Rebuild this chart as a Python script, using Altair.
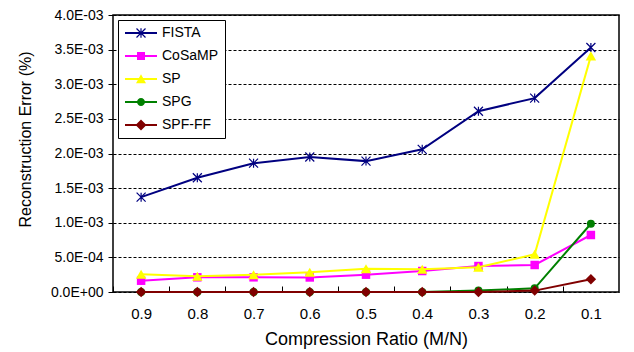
import altair as alt
import pandas as pd

# Compression ratios (x categories), left to right
ratios = ["0.9", "0.8", "0.7", "0.6", "0.5", "0.4", "0.3", "0.2", "0.1"]

# Reconstruction error for each algorithm
fista = [1.37e-3, 1.65e-3, 1.86e-3, 1.95e-3, 1.89e-3, 2.06e-3, 2.61e-3, 2.80e-3, 3.53e-3]
cosamp = [1.63e-4, 2.12e-4, 2.12e-4, 2.10e-4, 2.50e-4, 3.03e-4, 3.75e-4, 3.90e-4, 8.23e-4]
sp = [2.56e-4, 2.27e-4, 2.50e-4, 2.84e-4, 3.36e-4, 3.28e-4, 3.57e-4, 5.44e-4, 3.41e-3]
spg = [0.0, 0.0, 0.0, 0.0, 0.0, 0.0, 2.0e-5, 5.3e-5, 9.86e-4]
spf_ff = [0.0, 0.0, 0.0, 0.0, 0.0, 0.0, 0.0, 2.0e-5, 1.83e-4]

series_names = ["FISTA", "CoSaMP", "SP", "SPG", "SPF-FF"]
series_values = [fista, cosamp, sp, spg, spf_ff]
series_colors = ["#000080", "#FF00FF", "#FFFF00", "#008000", "#800000"]

# y-axis ticks and their scientific-notation labels
y_ticks = [0.0, 0.0005, 0.001, 0.0015, 0.002, 0.0025, 0.003, 0.0035, 0.004]
y_tick_labels = ["0.0E+00", "5.0E-04", "1.0E-03", "1.5E-03", "2.0E-03",
                 "2.5E-03", "3.0E-03", "3.5E-03", "4.0E-03"]

FONT = "Liberation Sans"
W, H = 506, 277
step = W / len(ratios)


def bar(x0, y0, x1, y1, hw):
    """Closed thin rectangle from (x0,y0) to (x1,y1), clockwise on screen."""
    dx, dy = x1 - x0, y1 - y0
    n = (dx * dx + dy * dy) ** 0.5
    px, py = -dy / n * hw, dx / n * hw
    pts = [(x0 - px, y0 - py), (x1 - px, y1 - py), (x1 + px, y1 + py), (x0 + px, y0 + py)]
    area = sum(pts[i][0] * pts[(i + 1) % 4][1] - pts[(i + 1) % 4][0] * pts[i][1] for i in range(4))
    if area < 0:
        pts = pts[::-1]
    return "M" + "L".join(f"{x:.3f},{y:.3f}" for x, y in pts) + "Z"


# Marker shapes on the data points
asterisk = "M-1,-1L1,1M1,-1L-1,1M0,-1L0,1"
point_marks = [
    dict(shape=asterisk, filled=False, size=81, strokeWidth=1.2),
    dict(shape="square", filled=True, size=72),
    dict(shape="triangle-up", filled=True, size=110),
    dict(shape="circle", filled=True, size=64),
    dict(shape="diamond", filled=True, size=110),
]

# Legend symbols: a short line segment with the marker on it (all filled areas)
seg = "M-3.2,-0.2H3.2V0.2H-3.2Z"
legend_paths = [
    seg + bar(-0.9, -0.9, 0.9, 0.9, 0.12) + bar(0.9, -0.9, -0.9, 0.9, 0.12) + bar(0, -0.95, 0, 0.95, 0.12),
    seg + "M-0.8,-0.8H0.8V0.8H-0.8Z",
    seg + "M0,-0.95L1,0.85H-1Z",
    seg + "M-0.8,0A0.8,0.8 0 1,1 0.8,0A0.8,0.8 0 1,1 -0.8,0Z",
    seg + "M0,-1.1L1.1,0L0,1.1L-1.1,0Z",
]

x_enc = alt.X(
    "ratio:N",
    sort=ratios,
    scale=alt.Scale(type="point", domain=ratios, padding=0.5),
    title="Compression Ratio (M/N)",
    axis=alt.Axis(
        domain=False, grid=False,
        ticks=True, tickSize=6, tickColor="black", tickWidth=1,
        offset=-6, tickOffset=-step / 2, labelOffset=step / 2,
        labelFont=FONT, labelFontSize=15, labelColor="black", labelPadding=14,
        labelAngle=0,
        titleFont=FONT, titleFontSize=18, titleFontWeight="normal", titleColor="black",
        titleX=253, titleY=58, titleBaseline="alphabetic", titleAnchor="start", titleAlign="center",
    ),
)

y_enc = alt.Y(
    "value:Q",
    scale=alt.Scale(domain=[0, 0.004], nice=False, zero=True),
    title="Reconstruction Error (%)",
    axis=alt.Axis(
        values=y_ticks,
        labelExpr="{}[indexof({}, datum.value)]".format(y_tick_labels, y_ticks),
        domain=False,
        grid=True, gridColor="black", gridDash=[3, 2], gridWidth=1, gridOpacity=1,
        ticks=True, tickSize=5, tickColor="black", tickWidth=1,
        labelFont=FONT, labelFontSize=14, labelColor="black", labelPadding=5,
        titleFont=FONT, titleFontSize=16, titleFontWeight="normal", titleColor="black",
        titleAngle=270, titleX=-83, titleY=124, titleAlign="center", titleBaseline="alphabetic",
    ),
)

layers = []
for name, vals, color, pm in zip(series_names, series_values, series_colors, point_marks):
    df = pd.DataFrame({"ratio": ratios, "value": vals, "series": name})
    base = alt.Chart(df).encode(x=x_enc, y=y_enc)
    layers.append(base.mark_line(color=color, strokeWidth=2))
    layers.append(base.mark_point(color=color, opacity=1, **pm))

legend_df = pd.DataFrame({"series": series_names})
legend_layer = (
    alt.Chart(legend_df)
    .transform_filter("false")
    .mark_point(filled=True, opacity=1, size=100)
    .encode(
        color=alt.Color(
            "series:N",
            scale=alt.Scale(domain=series_names, range=series_colors),
            legend=alt.Legend(title=None),
        ),
        shape=alt.Shape(
            "series:N",
            scale=alt.Scale(domain=series_names, range=legend_paths),
            legend=alt.Legend(title=None),
        ),
    )
)
layers.append(legend_layer)

chart = (
    alt.layer(*layers)
    .properties(
        width=W, height=H,
        autosize=alt.AutoSizeParams(type="none"),
        padding={"left": 113, "top": 15, "right": 15, "bottom": 60},
        background="white",
    )
    .configure_view(stroke="black", strokeWidth=1.5, fill="white")
    .configure_legend(
        orient="none", legendX=5, legendY=5,
        strokeColor="black", strokeWidth=1, fillColor="white", cornerRadius=0,
        padding=6, symbolOffset=10, labelOffset=14, rowPadding=9,
        labelFont=FONT, labelFontSize=14, labelColor="black",
        symbolSize=100, symbolStrokeWidth=0, symbolOpacity=1,
    )
)

chart.save("out.html", embed_options={"renderer": "svg", "actions": False})
